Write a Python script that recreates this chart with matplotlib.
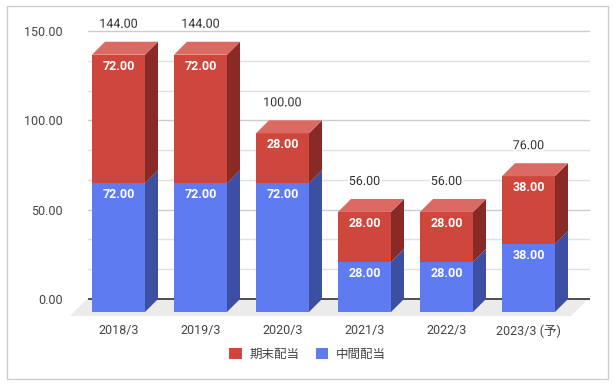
import matplotlib
matplotlib.use('Agg')
import matplotlib.pyplot as plt
from matplotlib.patches import Polygon, Rectangle, Patch
import matplotlib.patheffects as pe
import numpy as np

# ---- data ----
categories = ['2018/3', '2019/3', '2020/3', '2021/3', '2022/3', '2023/3 (予)']
interim = [72, 72, 72, 28, 28, 38]      # 中間配当
year_end = [72, 72, 28, 28, 28, 38]     # 期末配当
totals = [144, 144, 100, 56, 56, 76]
series_names = ['期末配当', '中間配当']
yticks = [0, 50, 100, 150]
ytick_labels = ['0.00', '50.00', '100.00', '150.00']

plt.rcParams['font.family'] = ['Roboto', 'Noto Sans CJK JP', 'DejaVu Sans']

W, H = 615, 384
fig = plt.figure(figsize=(W / 100, H / 100), dpi=100)

# pixel geometry helpers
px_x = 82.0                       # px per category
px_y = (299 - 31) / 150.0         # px per value unit
ax = fig.add_axes([88 / W, 1 - 316 / H, (590 - 88) / W, (316 - 20) / H])
x_left = -(118.5 - 88) / px_x
ax.set_xlim(x_left, x_left + (590 - 88) / px_x)
ax.set_ylim(-17 / px_y, (299 - 20) / px_y)

dx = 13 / px_x     # depth offset in x (category units)
dy = 13 / px_y     # depth offset in y (value units)
bw = 53 / px_x     # bar front width

# colors
blue_front, blue_side, blue_top = '#5f7bf1', '#3c4fa3', '#8198f5'
red_front, red_side, red_top = '#cf463d', '#8a2a26', '#db6b62'

# grid
ax.set_yticks(yticks)
ax.set_yticklabels(ytick_labels)
minor = [v for v in np.arange(0, 151, 50 / 3) if min(abs(v - t) for t in yticks) > 1]
ax.set_yticks(minor, minor=True)
ax.grid(True, which='major', axis='y', color='#cccccc', lw=1, zorder=1)
ax.grid(True, which='minor', axis='y', color='#e0e0e0', lw=1, zorder=1)
ax.set_axisbelow(True)
ax.axhline(0, color='#333333', lw=1.2, zorder=1.5)

# floor
fy = ax.get_ylim()[0]
fdx = 17 / px_x
floor = Polygon([((87 - 118.5) / px_x, 0), ((588 - 118.5) / px_x, 0),
                 ((588 - 118.5) / px_x - fdx, fy), ((87 - 118.5) / px_x - fdx, fy)],
                closed=True, fc='#ebebeb', ec='none', zorder=0.8, clip_on=False)
ax.add_patch(floor)

x = np.arange(len(categories))

def draw_box(xc, b, t, front, side, top, z, show_top):
    l, r = xc - bw / 2, xc + bw / 2
    ax.add_patch(Polygon([(l, b), (r, b), (r, t), (l, t)], closed=True,
                         fc=front, ec='none', zorder=z, clip_on=False))
    ax.add_patch(Polygon([(r, b), (r + dx, b + dy), (r + dx, t + dy), (r, t)], closed=True,
                         fc=side, ec='none', zorder=z, clip_on=False))
    if show_top:
        ax.add_patch(Polygon([(l, t), (l + dx, t + dy), (r + dx, t + dy), (r, t)], closed=True,
                             fc=top, ec='none', zorder=z, clip_on=False))

for i in x:
    b0 = -dy
    t0 = interim[i] - dy
    t1 = interim[i] + year_end[i] - dy
    draw_box(i, b0, t0, blue_front, blue_side, blue_top, 3, False)
    draw_box(i, t0, t1, red_front, red_side, red_top, 4, True)
    ax.annotate(f'{interim[i]:.2f}', (i, t0), xytext=(0, -8), textcoords='offset points',
                ha='center', va='center', color='white', fontsize=9, fontweight='bold', zorder=6)
    ax.annotate(f'{year_end[i]:.2f}', (i, t1), xytext=(0, -8.3), textcoords='offset points',
                ha='center', va='center', color='white', fontsize=9, fontweight='bold', zorder=6)
    ax.annotate(f'{totals[i]:.2f}', (i, t1), xytext=(0, 22), textcoords='offset points',
                ha='center', va='center', color='#333333', fontsize=9, zorder=6,
                path_effects=[pe.withStroke(linewidth=3, foreground='white')],
                annotation_clip=False)

ax.set_xticks(x)
ax.set_xticklabels(categories)
for s in ax.spines.values():
    s.set_visible(False)
ax.tick_params(axis='both', which='both', length=0, labelsize=9, colors='#444444')
ax.tick_params(axis='y', pad=18)
ax.tick_params(axis='x', pad=6)

handles = [Patch(fc=red_front, ec='none'), Patch(fc=blue_front, ec='none')]
fig.legend(handles, series_names, loc='center', bbox_to_anchor=(0.5, 1 - 354 / H), ncol=2,
           frameon=False, fontsize=9, handlelength=1.0, handleheight=1.0,
           handletextpad=0.6, columnspacing=1.3, labelcolor='#444444')

fig.patches.append(Rectangle((7 / W, 1 - 379 / H), (608 - 7) / W, (379 - 6) / H,
                             transform=fig.transFigure, fill=False, ec='#cccccc', lw=1))

fig.savefig('out.png', dpi=100, facecolor='white')
